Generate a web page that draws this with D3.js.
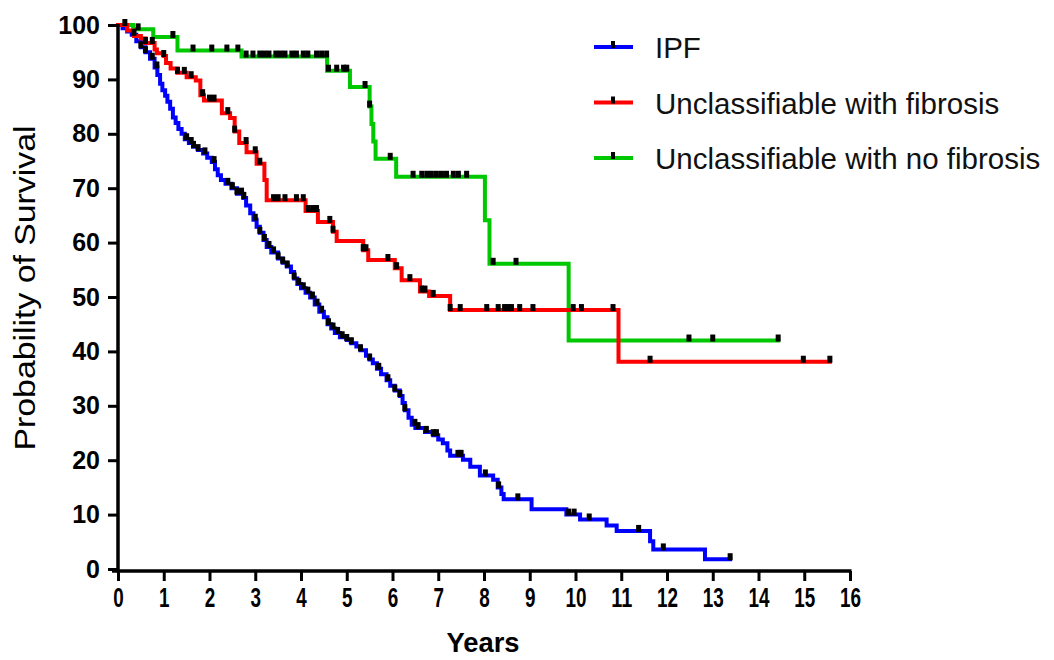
<!DOCTYPE html>
<html>
<head>
<meta charset="utf-8">
<script src="https://cdn.jsdelivr.net/npm/d3@7/dist/d3.min.js"></script>
<style>
  html, body { margin: 0; padding: 0; background: #fff; }
  svg { display: block; }
</style>
</head>
<body>
<svg id="chart" width="1054" height="660"></svg>
<script>
// Kaplan-Meier survival steps: [years, percent surviving]
const ipfSteps = [
  [0,100],[0.1,99.4],[0.2,98.8],[0.3,98.2],[0.4,97.0],[0.5,95.9],[0.6,95.0],[0.7,93.8],
  [0.8,92.2],[0.86,90.8],[0.92,89.2],[0.97,88],[1.03,87],[1.08,85.9],[1.14,84.6],[1.2,83],
  [1.26,82],[1.32,80.9],[1.39,80],[1.46,79],[1.55,78.3],[1.64,77.6],[1.75,77],[1.86,76.4],
  [1.95,75.6],[2.05,74.8],[2.12,73.5],[2.18,72.4],[2.25,71.5],[2.35,70.8],[2.48,70],[2.6,69],
  [2.74,68.2],[2.8,66.8],[2.89,65.4],[2.96,64.2],[3.03,62.9],[3.1,61.8],[3.18,60.5],[3.25,59.2],
  [3.35,58.2],[3.5,57.1],[3.6,56.3],[3.69,55.6],[3.78,54.6],[3.85,53.4],[3.92,52.4],[4.0,51.6],
  [4.1,50.8],[4.2,49.9],[4.3,48.6],[4.4,47.3],[4.5,46.3],[4.58,45],[4.66,44.2],[4.74,43.4],
  [4.85,42.6],[5.0,42.1],[5.1,41.5],[5.21,40.9],[5.3,40.2],[5.42,39.2],[5.5,38.5],[5.57,37.8],
  [5.66,36.8],[5.75,35.8],[5.87,34.7],[5.95,33.7],[6.05,32.8],[6.16,31.8],[6.22,30.5],[6.27,29.2],
  [6.35,27.8],[6.42,26.5],[6.5,25.9],[6.71,25.2],[6.89,24.6],[7.0,23.8],[7.1,23.1],[7.2,21.8],
  [7.26,20.8],[7.54,20.1],[7.7,18.8],[7.91,17.2],[8.2,16.4],[8.3,15],[8.38,13.8],[8.43,12.8],
  [9.04,11],[9.8,10],[10.1,9.1],[10.68,8],[10.9,7],[11.63,5.1],[11.7,3.6],[12.83,1.8]
];
const ipfEnd = 13.38;
const ipfCensored = [
  0.35,0.5,0.6,0.75,0.85,1.5,1.6,1.65,1.75,1.9,2.1,2.4,2.5,2.6,2.7,2.75,3.0,3.1,3.2,3.3,3.4,
  3.5,3.6,3.7,3.85,3.95,4.05,4.15,4.25,4.35,4.45,4.6,4.7,4.8,4.9,5.0,5.1,5.3,5.5,5.7,5.9,6.05,
  6.16,6.27,6.49,6.56,6.74,6.89,6.96,7.43,7.5,8.03,8.32,8.74,9.85,9.97,10.3,11.38,11.92,13.38
];

const fibSteps = [
  [0,100],[0.2,99],[0.35,98],[0.5,97.5],[0.6,96.7],[0.8,95.5],[0.85,94.8],[1.0,94.3],
  [1.05,93],[1.15,92],[1.3,91.2],[1.5,90.4],[1.7,89.8],[1.8,87.1],[1.88,86.1],[2.27,83.8],
  [2.45,82.9],[2.55,80.4],[2.65,78.3],[2.81,76.6],[3.03,74.5],[3.2,71.5],[3.25,67.8],[4.1,65.8],
  [4.37,63.8],[4.7,62],[4.78,60.3],[5.36,58.6],[5.47,56.8],[6.05,55.3],[6.2,53.1],[6.6,51],
  [6.8,50.2],[7.26,47.6],[10.94,38.1]
];
const fibEnd = 15.56;
const fibCensored = [
  0.6,0.75,1.0,1.3,1.45,1.6,1.85,2.0,2.1,2.4,2.55,2.8,3.0,3.1,3.4,3.5,3.65,3.9,4.05,4.16,4.26,
  4.34,4.63,4.7,5.36,5.42,5.9,6.09,6.38,6.64,6.71,6.89,7.26,7.48,8.06,8.31,8.45,8.52,8.6,8.78,
  9.07,9.95,10.13,10.82,11.63,14.98,15.56
];

const noFibSteps = [
  [0,100],[0.33,99.2],[0.77,97.8],[1.3,95.3],[2.7,94.2],[4.57,91.6],[5.07,88.6],[5.5,85],
  [5.54,81.8],[5.58,78.6],[5.63,75.4],[6.08,72.1],[8.02,64.1],[8.12,56.1],[9.85,42]
];
const noFibEnd = 14.43;
const noFibCensored = [
  0.15,0.44,1.2,1.64,2.05,2.38,2.62,2.8,2.95,3.1,3.2,3.3,3.45,3.55,3.65,3.8,3.9,4.05,4.15,4.34,
  4.45,4.56,4.6,4.78,4.93,5.0,5.4,5.5,5.95,6.45,6.64,6.75,6.85,6.96,7.07,7.18,7.33,7.44,7.62,
  8.2,8.7,12.48,13.0,14.43
];

const seriesNames = ["IPF", "Unclassifiable with fibrosis", "Unclassifiable with no fibrosis"];
const seriesColors = ["#0000ff", "#ff0000", "#00c800"];
const xTicks = d3.range(0, 17, 1);
const yTicks = d3.range(0, 101, 10);

const svg = d3.select("#chart");
const x = d3.scaleLinear().domain([0, 16]).range([118, 850]);
const y = d3.scaleLinear().domain([0, 100]).range([569, 25]);

// Survival value at time t from a step list
function survivalAt(steps, t) {
  const i = d3.bisector(d => d[0]).right(steps, t) - 1;
  return steps[Math.max(0, i)][1];
}

const stepLine = d3.line()
  .x(d => x(d[0]))
  .y(d => y(d[1]))
  .curve(d3.curveStepAfter);

const series = [
  { steps: ipfSteps, end: ipfEnd, censored: ipfCensored, color: seriesColors[0] },
  { steps: noFibSteps, end: noFibEnd, censored: noFibCensored, color: seriesColors[2] },
  { steps: fibSteps, end: fibEnd, censored: fibCensored, color: seriesColors[1] }
];

const plot = svg.append("g");
series.forEach(s => {
  const pts = s.steps.concat([[s.end, s.steps[s.steps.length - 1][1]]]);
  plot.append("path")
    .datum(pts)
    .attr("d", stepLine)
    .attr("fill", "none")
    .attr("stroke", s.color)
    .attr("stroke-width", 4)
    .attr("stroke-linejoin", "miter")
    .attr("stroke-linecap", "square");
});
series.forEach(s => {
  plot.append("g").selectAll("rect")
    .data(s.censored)
    .join("rect")
    .attr("x", t => x(t) - 2.5)
    .attr("y", t => y(survivalAt(s.steps, t)) - 6)
    .attr("width", 5)
    .attr("height", 7)
    .attr("fill", "#000");
});

// Axes
const xAxis = svg.append("g")
  .attr("transform", `translate(0,${y(0) + 2})`)
  .call(d3.axisBottom(x).tickValues(xTicks).tickFormat(d3.format("d")).tickSize(10).tickSizeOuter(0).tickPadding(7));
const yAxis = svg.append("g")
  .attr("transform", `translate(${x(0)},0)`)
  .call(d3.axisLeft(y).tickValues(yTicks).tickFormat(d3.format("d")).tickSize(10).tickSizeOuter(0).tickPadding(8));

[xAxis, yAxis].forEach(g => {
  g.select(".domain").attr("stroke", "#000").attr("stroke-width", 3.5);
  g.selectAll(".tick line").attr("stroke", "#000").attr("stroke-width", 3);
});
xAxis.select(".domain").attr("d", `M${x(0) - 6},0H${x(16) + 1.5}`);
yAxis.select(".domain").attr("d", `M0,${y(100) - 1}V${y(0) + 3.5}`);

xAxis.selectAll(".tick text")
  .attr("fill", "#000")
  .style("font-family", "'Liberation Sans', Arial, sans-serif")
  .style("font-weight", "bold")
  .style("font-size", "27px")
  .attr("textLength", function() { return this.textContent.length * 10.5; })
  .attr("lengthAdjust", "spacingAndGlyphs");
yAxis.selectAll(".tick text")
  .attr("fill", "#000")
  .style("font-family", "'Liberation Sans', Arial, sans-serif")
  .style("font-weight", "bold")
  .style("font-size", "25px");

// Axis titles
svg.append("text")
  .attr("x", 483)
  .attr("y", 652)
  .attr("text-anchor", "middle")
  .style("font-family", "'Liberation Sans', Arial, sans-serif")
  .style("font-weight", "bold")
  .style("font-size", "27px")
  .attr("textLength", 73)
  .attr("lengthAdjust", "spacingAndGlyphs")
  .text("Years");

svg.append("text")
  .attr("transform", "translate(35,288) rotate(-90)")
  .attr("text-anchor", "middle")
  .style("font-family", "'Liberation Sans', Arial, sans-serif")
  .style("font-size", "30px")
  .attr("textLength", 325)
  .attr("lengthAdjust", "spacingAndGlyphs")
  .text("Probability of Survival");

// Legend
const legendRows = [0, 1, 2];
const legend = svg.append("g");
legendRows.forEach(i => {
  const ly = 47 + i * 55.5;
  legend.append("line")
    .attr("x1", 594).attr("x2", 633)
    .attr("y1", ly).attr("y2", ly)
    .attr("stroke", seriesColors[i]).attr("stroke-width", 4);
  legend.append("rect")
    .attr("x", 611).attr("y", ly - 6)
    .attr("width", 4).attr("height", 7)
    .attr("fill", "#000");
  legend.append("text")
    .attr("x", 655).attr("y", ly + 11)
    .style("font-family", "'Liberation Sans', Arial, sans-serif")
    .style("font-size", "29.5px")
    .attr("fill", "#111")
    .text(seriesNames[i]);
});
</script>
</body>
</html>
